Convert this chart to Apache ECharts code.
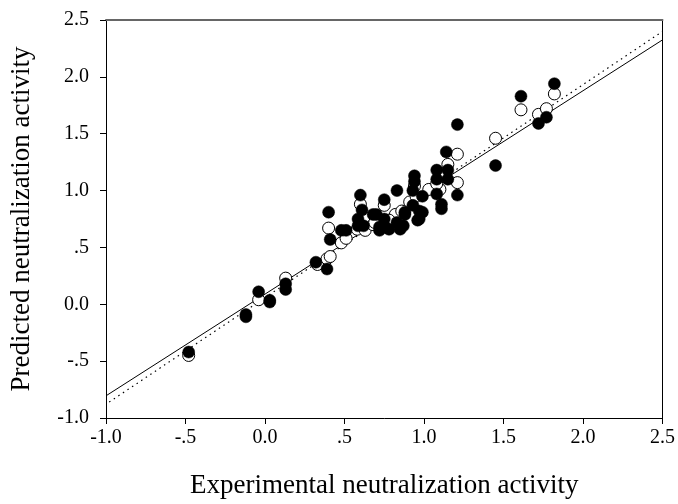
<!DOCTYPE html>
<html><head><meta charset="utf-8">
<script src="https://cdn.jsdelivr.net/npm/echarts@6/dist/echarts.min.js"></script>
<style>html,body{margin:0;padding:0;background:#fff}#c{width:678px;height:504px}</style>
</head><body><div id="c"></div>
<script>
var xTickLabels = {"-1":"-1.0","-0.5":"-.5","0":"0.0","0.5":".5","1":"1.0","1.5":"1.5","2":"2.0","2.5":"2.5"};
var yTickLabels = xTickLabels;
var filledPoints = [
 [-0.48,-0.42],[-0.12,-0.09],[-0.12,-0.11],[-0.04,0.11],[0.03,0.035],[0.03,0.02],
 [0.13,0.18],[0.13,0.13],[0.32,0.37],[0.39,0.31],[0.40,0.81],[0.41,0.57],
 [0.48,0.65],[0.51,0.65],[0.60,0.96],[0.61,0.83],[0.585,0.75],[0.585,0.69],
 [0.62,0.69],[0.68,0.79],[0.72,0.65],[0.75,0.92],[0.75,0.69],[0.75,0.75],
 [0.70,0.79],[0.72,0.68],[0.78,0.66],[0.83,1.00],[0.83,0.72],[0.85,0.66],
 [0.87,0.69],[0.88,0.79],[0.88,0.81],[0.93,1.00],[0.93,0.87],[0.94,1.13],
 [0.94,1.08],[0.96,0.74],[0.97,0.82],[0.97,0.75],[0.99,0.95],[0.99,0.81],
 [1.08,0.97],[1.08,1.10],[1.08,1.18],[1.11,0.88],[1.11,0.84],[1.14,1.34],
 [1.15,1.18],[1.15,1.10],[1.21,1.58],[1.21,0.96],[1.45,1.22],[1.61,1.83],
 [1.72,1.59],[1.77,1.645],[1.82,1.94]
];
var openPoints = [
 [-0.48,-0.45],[-0.04,0.04],[0.13,0.23],[0.33,0.35],[0.39,0.40],[0.41,0.42],
 [0.40,0.67],[0.48,0.54],[0.51,0.58],[0.60,0.88],[0.63,0.76],[0.58,0.66],
 [0.63,0.65],[0.68,0.70],[0.69,0.72],[0.75,0.87],[0.82,0.79],[0.86,0.82],
 [0.91,0.90],[0.94,1.04],[1.03,1.01],[1.10,1.01],[1.08,1.06],[1.15,1.23],
 [1.21,1.32],[1.21,1.07],[1.45,1.46],[1.61,1.71],[1.72,1.67],[1.77,1.72],
 [1.82,1.85],[0.78,0.74],[0.95,0.95]
];
var solidLine = [[-1.0,-0.805],[2.5,2.325]];
var dottedLine = [[-0.98,-0.86],[2.5,2.40]];

var font = "'Liberation Serif','Times New Roman',serif";
function fmt(v){ var k = String(Math.round(v*10)/10); return xTickLabels[k] !== undefined ? xTickLabels[k] : k; }
var chart = echarts.init(document.getElementById('c'), null, {renderer:'canvas'});
chart.setOption({
  animation:false,
  backgroundColor:'#fff',
  grid:{left:106,right:15,top:20,bottom:84},
  xAxis:[{
    type:'value',min:-1,max:2.5,interval:0.5,
    name:'Experimental neutralization activity',nameLocation:'middle',nameGap:54,
    nameTextStyle:{fontFamily:font,fontSize:27,color:'#000'},
    axisLine:{onZero:false,lineStyle:{color:'#000',width:1}},
    axisTick:{show:true,length:6,inside:false,lineStyle:{color:'#000'}},
    axisLabel:{formatter:fmt,fontFamily:font,fontSize:20,color:'#000',margin:10},
    splitLine:{show:false}
  },{
    type:'value',min:-1,max:2.5,position:'top',
    axisLine:{show:true,onZero:false,lineStyle:{color:'#666',width:2}},
    axisTick:{show:false},axisLabel:{show:false},splitLine:{show:false}
  }],
  yAxis:[{
    type:'value',min:-1,max:2.5,interval:0.5,
    name:'Predicted neutralization activity',nameLocation:'middle',nameGap:71,nameRotate:90,
    nameTextStyle:{fontFamily:font,fontSize:27,color:'#000'},
    axisLine:{show:true,onZero:false,lineStyle:{color:'#000',width:1}},
    axisTick:{show:true,length:6,inside:false,lineStyle:{color:'#000'}},
    axisLabel:{formatter:fmt,fontFamily:font,fontSize:20,color:'#000',margin:17},
    splitLine:{show:false}
  },{
    type:'value',min:-1,max:2.5,position:'right',
    axisLine:{show:true,onZero:false,lineStyle:{color:'#000',width:1}},
    axisTick:{show:false},axisLabel:{show:false},splitLine:{show:false}
  }],
  series:[
    {type:'line',data:solidLine,symbol:'none',lineStyle:{color:'#000',width:1,type:'solid'},z:1},
    {type:'line',data:dottedLine,symbol:'none',lineStyle:{color:'#000',width:1.2,type:[1.5,4]},z:1},
    {type:'scatter',data:openPoints,symbol:'circle',symbolSize:12,
     itemStyle:{color:'#fff',borderColor:'#000',borderWidth:1,opacity:1},z:2},
    {type:'scatter',data:filledPoints,symbol:'circle',symbolSize:12,
     itemStyle:{color:'#000',borderColor:'#000',borderWidth:0.5,opacity:1},z:3}
  ]
});
</script></body></html>
